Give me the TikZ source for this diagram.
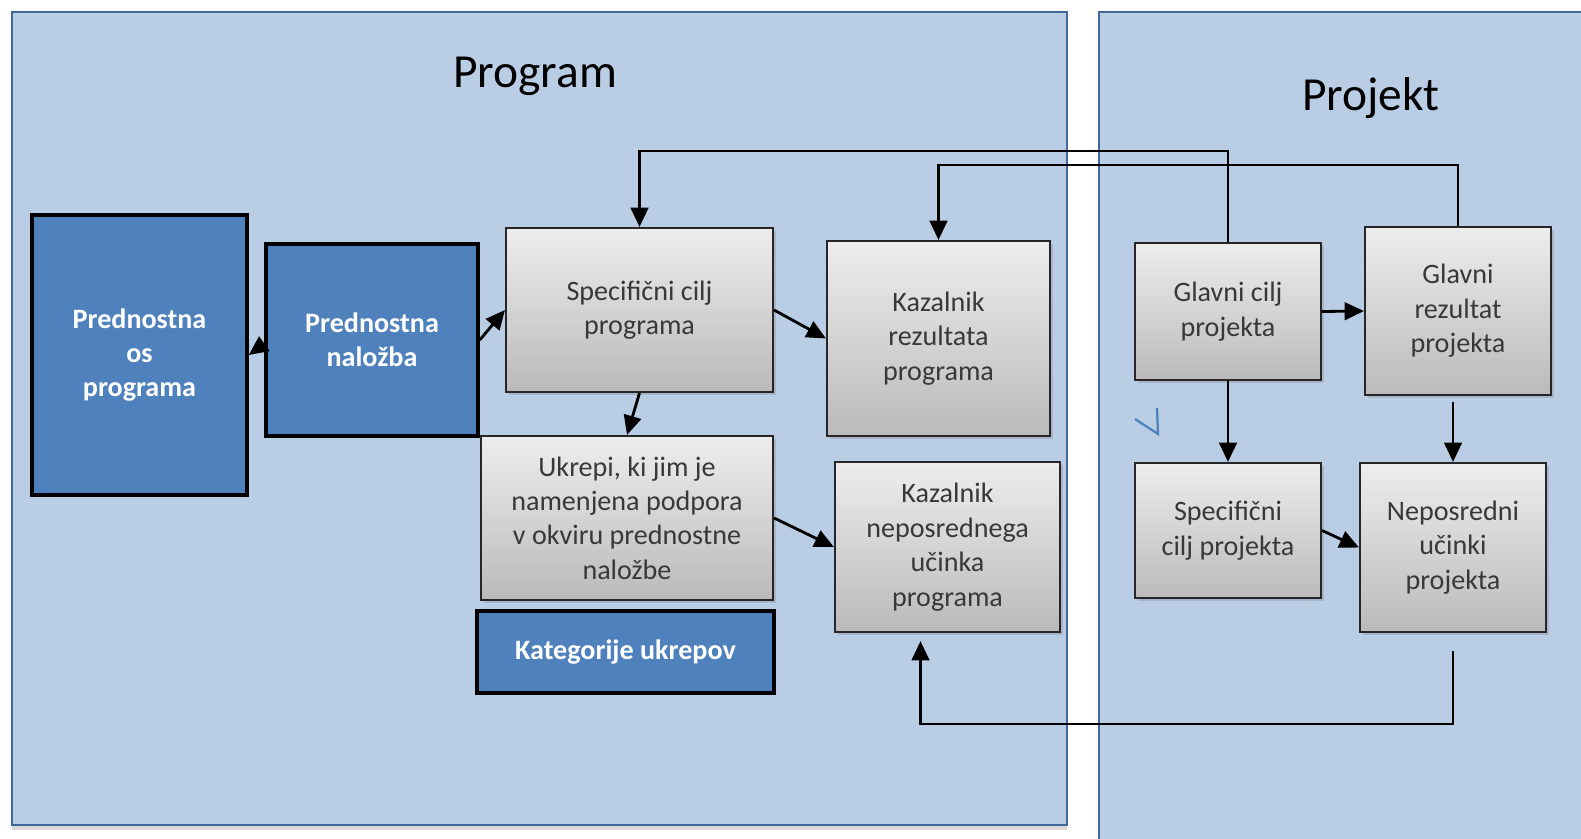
\documentclass[tikz,border=0pt]{standalone}
\usepackage{fontspec}
\setmainfont{Carlito}
\usetikzlibrary{calc,arrows.meta,shadows}
\definecolor{panelblue}{HTML}{B9CDE5}
\definecolor{paneledge}{HTML}{41689C}
\definecolor{boxblue}{HTML}{4F81BD}
\definecolor{boxtext}{HTML}{383838}

\begin{document}
\begin{tikzpicture}[x=0.02cm,y=-0.02cm,
    boxsize/.style 2 args={minimum width=#1*0.02cm,minimum height=#2*0.02cm},
    panel/.style={fill=panelblue,draw=paneledge,line width=1pt,
      drop shadow={shadow xshift=0pt,shadow yshift=-3pt,opacity=0.3}},
    greybox/.style={draw=black!85,line width=1.2pt,top color=black!7,bottom color=black!27,
      text=boxtext,align=center,inner sep=0pt,font=\fontsize{16}{19.6}\selectfont,
      drop shadow={shadow xshift=1.5pt,shadow yshift=-1.5pt,opacity=0.3}},
    bluebox/.style={draw=black,line width=2pt,fill=boxblue,text=white,align=center,
      inner sep=0pt,font=\bfseries\fontsize{16}{19.6}\selectfont},
    title/.style={font=\fontsize{27}{32}\selectfont},
    conn/.style={line width=1.6pt,-{Triangle[length=11pt,width=10pt]}},
    wire/.style={line width=1.6pt}]
    \useasboundingbox (0,0) rectangle (1581,838);
    %% panels
    \path[panel] (12,12) rectangle (1067,825);
    \path[panel] (1099,12) rectangle (1600,860);
    \node[title] (program) at (535,76) {Program};
    \node[title] (projekt) at (1371,98) {Projekt};
    %%
    \node[bluebox,boxsize={215}{280}] (os) at (139.5,355) {Prednostna\\os\\programa};
    \node[bluebox,boxsize={212}{192}] (nalozba) at (372,340) {Prednostna\\naložba};
    \node[greybox,boxsize={267}{164}] (speccilj) at (639.5,310) {Specifični cilj\\programa};
    \node[greybox,boxsize={223}{195}] (kazrez) at (938.5,338.5) {Kazalnik\\rezultata\\programa};
    \node[greybox,boxsize={292}{164}] (ukrepi) at (627,518)
      {Ukrepi, ki jim je\\namenjena podpora\\v okviru prednostne\\naložbe};
    \node[bluebox,boxsize={297}{82}] (kategorije) at (625.5,652) {Kategorije ukrepov};
    \node[greybox,boxsize={225}{170}] (kazneposr) at (947.5,547)
      {Kazalnik\\neposrednega\\učinka\\programa};
    %%
    \node[greybox,boxsize={186}{137}] (glavnicilj) at (1228,311.5) {Glavni cilj\\projekta};
    \node[greybox,boxsize={186}{168}] (glavnirez) at (1458,311) {Glavni\\rezultat\\projekta};
    \node[greybox,boxsize={186}{135}] (specproj) at (1228,530.5) {Specifični\\cilj projekta};
    \node[greybox,boxsize={186}{169}] (neposproj) at (1453,547.5) {Neposredni\\učinki\\projekta};
    %% connectors
    \draw[conn] (nalozba.182) -- (os.east);
    \draw[conn] (nalozba.east) -- (speccilj.west);
    \draw[conn] (speccilj.east) -- (kazrez.west);
    \draw[conn] (speccilj.south) -- (ukrepi.north);
    \draw[conn] (ukrepi.east) -- (kazneposr.west);
    \draw[conn] (glavnicilj.north) |- ($(speccilj.north)+(0,-76)$) -- (speccilj.north);
    \draw[conn] (glavnirez.north) |- ($(kazrez.north)+(0,-75)$) -- (kazrez.north);
    \draw[conn] (glavnicilj.east) -- (glavnirez.west);
    \draw[conn] (glavnicilj.south) -- (specproj.north);
    \draw[conn] ($(neposproj.north)+(0,-60)$) -- (neposproj.north);
    \draw[conn] (specproj.east) -- (neposproj.west);
    \draw[conn] ($(neposproj.south)+(0,18)$) |- ($(kazneposr.south)+(-27,91)$)
      -- ($(kazneposr.south)+(-27,8)$);
    %% stray mark
    \draw[boxblue,line width=1.3pt] (1135,419) -- (1158,434) -- (1157,408);
\end{tikzpicture}
\end{document}
